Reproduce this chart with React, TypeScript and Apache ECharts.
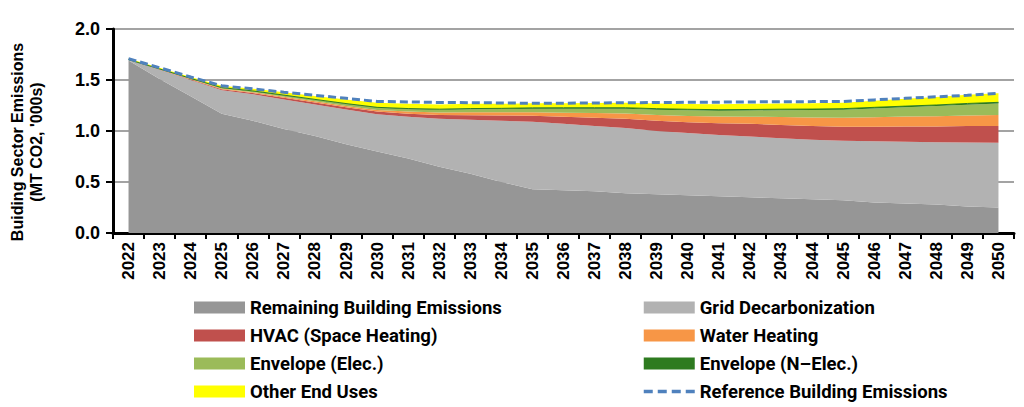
import React, { useEffect, useRef } from "react";
import * as echarts from "echarts";

const years = [
  "2022", "2023", "2024", "2025", "2026", "2027", "2028", "2029", "2030", "2031",
  "2032", "2033", "2034", "2035", "2036", "2037", "2038", "2039", "2040", "2041",
  "2042", "2043", "2044", "2045", "2046", "2047", "2048", "2049", "2050",
];

const remaining = [
  1.69, 1.51, 1.34, 1.17, 1.1, 1.02, 0.95, 0.87, 0.8, 0.73,
  0.65, 0.58, 0.5, 0.43, 0.42, 0.41, 0.39, 0.38, 0.37, 0.36,
  0.35, 0.34, 0.33, 0.32, 0.3, 0.29, 0.28, 0.26, 0.25,
];

const gridDecarb = [
  0.01, 0.09, 0.16, 0.23, 0.26, 0.29, 0.31, 0.34, 0.365, 0.41,
  0.47, 0.53, 0.6, 0.66, 0.65, 0.64, 0.64, 0.62, 0.61, 0.6,
  0.595, 0.59, 0.585, 0.585, 0.6, 0.605, 0.61, 0.628, 0.635,
];

const hvac = [
  0, 0.003, 0.006, 0.01, 0.013, 0.016, 0.019, 0.022, 0.025, 0.03,
  0.037, 0.045, 0.052, 0.06, 0.07, 0.08, 0.09, 0.1, 0.105, 0.115,
  0.125, 0.13, 0.133, 0.136, 0.142, 0.148, 0.154, 0.16, 0.165,
];

const waterHeating = [
  0, 0.002, 0.004, 0.006, 0.008, 0.01, 0.012, 0.014, 0.016, 0.02,
  0.024, 0.028, 0.031, 0.034, 0.04, 0.046, 0.052, 0.058, 0.063, 0.066,
  0.07, 0.077, 0.084, 0.09, 0.094, 0.098, 0.101, 0.104, 0.107,
];

const envelopeElec = [
  0, 0.002, 0.004, 0.006, 0.009, 0.012, 0.015, 0.018, 0.021, 0.024,
  0.027, 0.03, 0.032, 0.035, 0.039, 0.043, 0.047, 0.051, 0.055, 0.058,
  0.061, 0.067, 0.073, 0.078, 0.085, 0.092, 0.099, 0.106, 0.112,
];

const envelopeNElec = [
  0, 0.001, 0.002, 0.003, 0.003, 0.004, 0.004, 0.005, 0.005, 0.006,
  0.006, 0.007, 0.007, 0.008, 0.009, 0.009, 0.009, 0.01, 0.01, 0.01,
  0.01, 0.01, 0.01, 0.01, 0.011, 0.011, 0.011, 0.012, 0.012,
];

const otherEndUses = [
  0.01, 0.012, 0.014, 0.018, 0.022, 0.028, 0.034, 0.04, 0.045, 0.046,
  0.047, 0.046, 0.045, 0.044, 0.045, 0.046, 0.048, 0.05, 0.052, 0.054,
  0.055, 0.056, 0.057, 0.058, 0.065, 0.072, 0.079, 0.085, 0.09,
];

const reference = [
  1.71, 1.62, 1.53, 1.443, 1.413, 1.38, 1.35, 1.32, 1.29, 1.285,
  1.28, 1.278, 1.275, 1.272, 1.273, 1.275, 1.277, 1.279, 1.281, 1.283,
  1.285, 1.287, 1.288, 1.29, 1.305, 1.32, 1.335, 1.35, 1.37,
];

const yTicks = [0, 0.5, 1.0, 1.5, 2.0];

const AXIS_FONT = "'Liberation Sans', Arial, sans-serif";
const LEGEND_FONT = "Roboto, 'Liberation Sans', sans-serif";

const stackedDefs = [
  { name: "Remaining Building Emissions", data: remaining, color: "#969696" },
  { name: "Grid Decarbonization", data: gridDecarb, color: "#b2b2b2" },
  { name: "HVAC (Space Heating)", data: hvac, color: "#c0504d" },
  { name: "Water Heating", data: waterHeating, color: "#f79646" },
  { name: "Envelope (Elec.)", data: envelopeElec, color: "#9bbb59" },
  { name: "Envelope (N–Elec.)", data: envelopeNElec, color: "#2e7b20" },
  { name: "Other End Uses", data: otherEndUses, color: "#ffff00" },
];

export default function App() {
  const ref = useRef<HTMLDivElement>(null);

  useEffect(() => {
    const chart = echarts.init(ref.current!, null, { renderer: "svg" });

    const series: any[] = stackedDefs.map((d) => ({
      name: d.name,
      type: "line",
      stack: "total",
      data: d.data,
      symbol: "none",
      color: d.color,
      lineStyle: { width: d.name === "Envelope (N–Elec.)" ? 1 : 0, color: d.color },
      areaStyle: { color: d.color, opacity: 1 },
      itemStyle: { color: d.color },
    }));

    series.push({
      name: "Reference Building Emissions",
      type: "line",
      data: reference,
      symbol: "none",
      color: "#4f81bd",
      lineStyle: { width: 3, type: [8, 4], color: "#4f81bd" },
      itemStyle: { color: "#4f81bd" },
      z: 5,
    });

    const legendText = {
      fontFamily: LEGEND_FONT,
      fontSize: 18.5,
      fontWeight: "bold",
      color: "#000",
    };

    const legendBase = {
      orient: "vertical",
      top: 298,
      padding: 0,
      itemWidth: 51,
      itemHeight: 12,
      itemGap: 9,
      textStyle: legendText,
      selectedMode: false,
    };

    chart.setOption({
      animation: false,
      grid: { left: 113, right: 10, top: 29, bottom: 174, containLabel: false },
      xAxis: {
        type: "category",
        data: years,
        boundaryGap: true,
        axisLine: { show: true, lineStyle: { color: "#000", width: 3 } },
        axisTick: { show: true, length: 6, lineStyle: { color: "#000", width: 2 } },
        axisLabel: {
          interval: 0,
          rotate: 90,
          margin: 9,
          fontFamily: AXIS_FONT,
          fontSize: 17,
          fontWeight: "bold",
          color: "#000",
        },
        splitLine: { show: false },
      },
      yAxis: {
        type: "value",
        min: yTicks[0],
        max: yTicks[yTicks.length - 1],
        interval: 0.5,
        axisLine: { show: true, lineStyle: { color: "#000", width: 3 } },
        axisTick: { show: true, length: 7, lineStyle: { color: "#000", width: 2 } },
        axisLabel: {
          formatter: (v: number) => v.toFixed(1),
          margin: 13,
          fontFamily: AXIS_FONT,
          fontSize: 18,
          fontWeight: "bold",
          color: "#000",
        },
        splitLine: { show: true, lineStyle: { color: "#858585", width: 1.5 } },
      },
      legend: [
        {
          ...legendBase,
          left: 194,
          data: [
            { name: "Remaining Building Emissions", icon: "rect" },
            { name: "HVAC (Space Heating)", icon: "rect" },
            { name: "Envelope (Elec.)", icon: "rect" },
            { name: "Other End Uses", icon: "rect" },
          ],
        },
        {
          ...legendBase,
          left: 642,
          data: [
            { name: "Grid Decarbonization", icon: "rect" },
            { name: "Water Heating", icon: "rect" },
            { name: "Envelope (N–Elec.)", icon: "rect" },
            {
              name: "Reference Building Emissions",
              itemStyle: { opacity: 0 },
              lineStyle: { width: 3.5, type: [9, 5], color: "#4f81bd" },
            },
          ],
        },
      ],
      graphic: [
        {
          type: "text",
          x: 27,
          y: 142,
          rotation: Math.PI / 2,
          style: {
            text: "Buiding Sector Emissions\n(MT CO2, '000s)",
            fontFamily: AXIS_FONT,
            fontSize: 16,
            fontWeight: "bold",
            lineHeight: 19,
            fill: "#000",
            align: "center",
            verticalAlign: "middle",
          },
        },
      ],
      series,
    });

    return () => chart.dispose();
  }, []);

  return (
    <div
      ref={ref}
      style={{ position: "absolute", left: 0, top: 0, width: 1024, height: 407 }}
    />
  );
}
